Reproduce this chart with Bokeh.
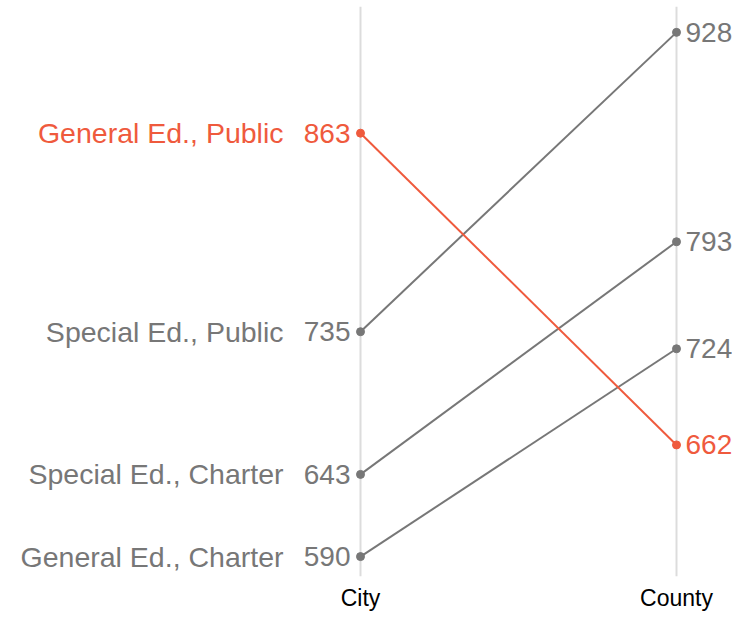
from bokeh.plotting import figure
from bokeh.models import Range1d, FixedTicker
from bokeh.core.properties import value
from bokeh.embed import file_html
from bokeh.resources import INLINE

groups = ["General Ed., Public", "Special Ed., Public", "Special Ed., Charter", "General Ed., Charter"]
city = [863, 735, 643, 590]
county = [662, 928, 793, 724]
columns = ["City", "County"]
highlight = "General Ed., Public"

HI = "#ef5a3d"
GRAY = "#777777"
FONT = "Liberation Sans"

W, H = 732, 613
TOP, BOT = 6, 34
frame_h = H - TOP - BOT
scale = (559 - 32) / (928 - 590)
y_top = 928 + (32 - TOP) / scale
y_bot = y_top - frame_h / scale
xs = (676 - 360)
x_left = -360 / xs
x_right = 1 + (W - 676) / xs

p = figure(width=W, height=H, output_backend="svg", toolbar_location=None,
           x_range=Range1d(x_left, x_right), y_range=Range1d(y_bot, y_top),
           y_axis_location=None, min_border_left=0, min_border_right=0,
           min_border_top=TOP, min_border_bottom=BOT)
p.outline_line_color = None
p.ygrid.grid_line_color = None
p.xaxis.ticker = FixedTicker(ticks=[0, 1])
p.xaxis.major_label_overrides = {0: columns[0], 1: columns[1]}
p.xaxis.axis_line_color = None
p.xaxis.major_tick_line_color = None
p.xaxis.major_tick_out = 0
p.xaxis.major_tick_in = 0
p.xaxis.minor_tick_line_color = None
p.xaxis.major_label_text_font = FONT
p.xaxis.major_label_text_font_size = "23px"
p.xaxis.major_label_text_color = "black"
p.xaxis.major_label_standoff = 8
p.xgrid.ticker = FixedTicker(ticks=[0, 1])
p.xgrid.grid_line_color = "#dcdcdc"
p.xgrid.grid_line_width = 2

order = [i for i, g in enumerate(groups) if g != highlight] + [i for i, g in enumerate(groups) if g == highlight]
for i in order:
    c = HI if groups[i] == highlight else GRAY
    p.line([0, 1], [city[i], county[i]], line_color=c, line_width=2)
    p.scatter([0, 1], [city[i], county[i]], size=8, fill_color=c, line_color=c)
    p.text([0], [city[i]], text=[str(city[i])], text_align="right", text_baseline="middle",
           x_offset=-10, text_color=c, text_font=value(FONT), text_font_size="28px")
    p.text([0], [city[i]], text=[groups[i]], text_align="right", text_baseline="middle",
           x_offset=-77, text_color=c, text_font=value(FONT), text_font_size="28.5px")
    p.text([1], [county[i]], text=[str(county[i])], text_align="left", text_baseline="middle",
           x_offset=9, text_color=c, text_font=value(FONT), text_font_size="28px")

open("out.html", "w").write(file_html(p, INLINE))
